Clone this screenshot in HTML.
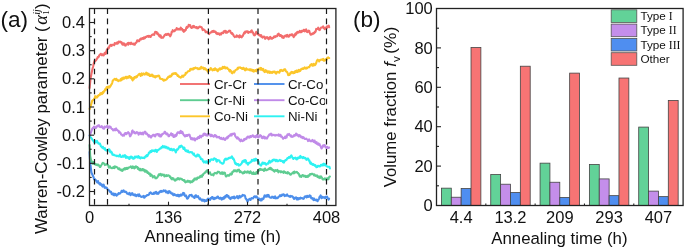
<!DOCTYPE html>
<html><head><meta charset="utf-8"><style>
html,body{margin:0;padding:0;background:#fff;}
body{width:685px;height:249px;overflow:hidden;font-family:"Liberation Sans",sans-serif;}
svg{display:block;will-change:transform;}
</style></head><body>
<svg width="685" height="249" viewBox="0 0 685 249">
<defs><clipPath id="clipCo"><rect x="280" y="90" width="44.9" height="20"/></clipPath></defs>
<rect x="0" y="0" width="685" height="249" fill="#fff"/>
<path d="M89.60,152.00 L89.90,158.00 L90.30,164.00 L91.40,172.50 L93.60,177.26 L94.10,179.15 L94.60,179.87 L95.10,179.27 L95.60,179.99 L96.10,180.45 L96.60,181.40 L97.10,182.34 L97.60,181.31 L98.10,181.16 L98.60,183.27 L99.10,183.28 L99.60,184.34 L100.10,183.18 L100.60,183.98 L101.10,185.02 L101.60,184.37 L102.10,185.99 L102.60,186.55 L103.10,184.88 L103.60,184.59 L104.10,186.10 L104.60,187.82 L105.10,187.40 L105.60,187.25 L106.10,188.03 L106.60,187.70 L107.10,188.40 L107.60,189.43 L108.10,190.21 L108.60,190.18 L109.10,190.49 L109.60,190.90 L110.10,191.91 L110.60,192.16 L111.10,191.95 L111.60,194.10 L112.10,194.12 L112.60,194.35 L113.10,193.44 L113.60,195.08 L114.10,195.32 L114.60,193.76 L115.10,193.83 L115.60,194.81 L116.10,195.14 L116.60,195.67 L117.10,194.38 L117.60,194.73 L118.10,194.26 L118.60,193.08 L119.10,193.18 L119.60,193.69 L120.10,193.59 L120.60,192.63 L121.10,192.39 L121.60,190.89 L122.10,190.77 L122.60,191.86 L123.10,191.16 L123.60,190.38 L124.10,191.16 L124.60,191.84 L125.10,192.07 L125.60,191.54 L126.10,191.88 L126.60,192.47 L127.10,193.59 L127.60,193.64 L128.10,193.68 L128.60,194.22 L129.10,193.13 L129.60,192.80 L130.10,194.17 L130.60,195.18 L131.10,194.55 L131.60,193.86 L132.10,193.09 L132.60,193.58 L133.10,195.00 L133.60,195.09 L134.10,194.73 L134.60,195.50 L135.10,194.43 L135.60,194.89 L136.10,196.18 L136.60,195.66 L137.10,195.20 L137.60,194.60 L138.10,195.05 L138.60,196.10 L139.10,194.21 L139.60,195.41 L140.10,196.05 L140.60,196.59 L141.10,196.58 L141.60,196.91 L142.10,196.51 L142.60,196.66 L143.10,196.57 L143.60,195.86 L144.10,197.69 L144.60,197.49 L145.10,196.25 L145.60,196.34 L146.10,196.10 L146.60,195.50 L147.10,195.07 L147.60,195.15 L148.10,195.15 L148.60,194.92 L149.10,194.29 L149.60,192.90 L150.10,192.73 L150.60,192.35 L151.10,192.97 L151.60,193.71 L152.10,193.87 L152.60,193.93 L153.10,194.01 L153.60,192.77 L154.10,193.76 L154.60,193.69 L155.10,192.38 L155.60,191.94 L156.10,191.89 L156.60,193.67 L157.10,193.13 L157.60,192.74 L158.10,193.89 L158.60,193.43 L159.10,192.20 L159.60,191.69 L160.10,192.03 L160.60,190.96 L161.10,190.89 L161.60,191.88 L162.10,191.56 L162.60,191.12 L163.10,191.31 L163.60,190.31 L164.10,190.81 L164.60,191.11 L165.10,190.78 L165.60,190.59 L166.10,192.44 L166.60,192.19 L167.10,191.51 L167.60,192.31 L168.10,193.09 L168.60,191.53 L169.10,191.10 L169.60,191.31 L170.10,192.74 L170.60,192.10 L171.10,193.33 L171.60,193.81 L172.10,193.82 L172.60,193.25 L173.10,194.98 L173.60,195.26 L174.10,194.84 L174.60,194.19 L175.10,195.12 L175.60,194.97 L176.10,195.49 L176.60,195.21 L177.10,195.99 L177.60,194.70 L178.10,194.77 L178.60,196.24 L179.10,196.37 L179.60,195.00 L180.10,195.66 L180.60,194.56 L181.10,195.61 L181.60,195.41 L182.10,194.52 L182.60,193.81 L183.10,192.96 L183.60,194.64 L184.10,193.14 L184.60,194.77 L185.10,196.10 L185.60,196.00 L186.10,195.46 L186.60,197.31 L187.10,198.52 L187.60,198.66 L188.10,198.06 L188.60,196.96 L189.10,196.12 L189.60,195.11 L190.10,195.44 L190.60,195.33 L191.10,195.00 L191.60,194.90 L192.10,196.37 L192.60,196.17 L193.10,196.79 L193.60,196.78 L194.10,197.79 L194.60,197.95 L195.10,195.78 L195.60,195.37 L196.10,195.36 L196.60,196.69 L197.10,197.05 L197.60,196.39 L198.10,196.15 L198.60,197.39 L199.10,198.39 L199.60,199.15 L200.10,198.28 L200.60,199.51 L201.10,199.66 L201.60,199.47 L202.10,200.79 L202.60,199.70 L203.10,200.73 L203.60,199.80 L204.10,199.95 L204.60,201.50 L205.10,200.19 L205.60,200.92 L206.10,200.63 L206.60,200.94 L207.10,199.71 L207.60,199.07 L208.10,198.56 L208.60,199.52 L209.10,199.11 L209.60,199.82 L210.10,199.85 L210.60,198.11 L211.10,198.52 L211.60,197.59 L212.10,197.13 L212.60,197.02 L213.10,198.73 L213.60,199.00 L214.10,199.10 L214.60,197.94 L215.10,198.15 L215.60,198.53 L216.10,197.67 L216.60,197.85 L217.10,197.08 L217.60,196.50 L218.10,196.73 L218.60,198.21 L219.10,197.88 L219.60,198.71 L220.10,198.11 L220.60,197.69 L221.10,198.91 L221.60,199.54 L222.10,198.03 L222.60,199.27 L223.10,198.15 L223.60,197.40 L224.10,198.59 L224.60,196.66 L225.10,196.19 L225.60,197.42 L226.10,196.14 L226.60,195.03 L227.10,195.15 L227.60,195.55 L228.10,197.03 L228.60,196.19 L229.10,198.00 L229.60,197.52 L230.10,198.83 L230.60,199.08 L231.10,197.78 L231.60,197.33 L232.10,197.74 L232.60,197.03 L233.10,198.12 L233.60,197.01 L234.10,196.50 L234.60,198.50 L235.10,197.43 L235.60,197.73 L236.10,197.39 L236.60,196.90 L237.10,196.09 L237.60,197.72 L238.10,198.26 L238.60,198.33 L239.10,196.30 L239.60,195.84 L240.10,196.48 L240.60,197.32 L241.10,196.40 L241.60,196.29 L242.10,196.03 L242.60,194.86 L243.10,195.43 L243.60,195.38 L244.10,195.48 L244.60,195.40 L245.10,196.12 L245.60,198.66 L246.10,198.77 L246.60,199.84 L247.10,200.73 L247.60,201.82 L248.10,200.47 L248.60,199.66 L249.10,199.25 L249.60,198.90 L250.10,199.80 L250.60,199.97 L251.10,198.51 L251.60,198.07 L252.10,198.33 L252.60,198.38 L253.10,198.34 L253.60,197.42 L254.10,196.52 L254.60,196.67 L255.10,196.26 L255.60,197.32 L256.10,196.58 L256.60,196.41 L257.10,197.72 L257.60,197.58 L258.10,198.90 L258.60,198.80 L259.10,199.82 L259.60,198.70 L260.10,199.37 L260.60,200.44 L261.10,199.30 L261.60,200.35 L262.10,198.51 L262.60,198.98 L263.10,199.23 L263.60,198.56 L264.10,196.83 L264.60,195.45 L265.10,195.61 L265.60,196.66 L266.10,195.56 L266.60,196.61 L267.10,195.20 L267.60,196.54 L268.10,194.92 L268.60,195.09 L269.10,196.67 L269.60,197.07 L270.10,197.58 L270.60,197.73 L271.10,197.70 L271.60,197.71 L272.10,196.69 L272.60,197.11 L273.10,196.76 L273.60,197.96 L274.10,198.13 L274.60,197.19 L275.10,196.44 L275.60,198.25 L276.10,198.40 L276.60,197.82 L277.10,197.59 L277.60,198.20 L278.10,197.41 L278.60,196.86 L279.10,196.42 L279.60,195.97 L280.10,195.16 L280.60,196.20 L281.10,195.85 L281.60,195.96 L282.10,194.68 L282.60,194.83 L283.10,194.43 L283.60,194.32 L284.10,194.62 L284.60,196.05 L285.10,195.51 L285.60,195.38 L286.10,195.86 L286.60,195.15 L287.10,194.45 L287.60,195.48 L288.10,195.80 L288.60,196.29 L289.10,196.01 L289.60,196.55 L290.10,196.88 L290.60,195.90 L291.10,196.31 L291.60,196.55 L292.10,196.18 L292.60,196.64 L293.10,197.26 L293.60,198.38 L294.10,198.91 L294.60,197.76 L295.10,198.44 L295.60,197.43 L296.10,197.35 L296.60,198.51 L297.10,199.55 L297.60,198.07 L298.10,198.90 L298.60,199.31 L299.10,198.00 L299.60,198.36 L300.10,198.71 L300.60,197.69 L301.10,198.12 L301.60,198.29 L302.10,197.98 L302.60,198.46 L303.10,198.66 L303.60,198.83 L304.10,197.95 L304.60,196.74 L305.10,196.48 L305.60,196.23 L306.10,196.88 L306.60,197.42 L307.10,195.87 L307.60,196.77 L308.10,197.03 L308.60,196.17 L309.10,196.21 L309.60,195.37 L310.10,196.81 L310.60,195.91 L311.10,198.06 L311.60,198.57 L312.10,198.56 L312.60,197.99 L313.10,199.54 L313.60,200.13 L314.10,198.51 L314.60,199.57 L315.10,200.13 L315.60,199.97 L316.10,200.10 L316.60,199.64 L317.10,200.69 L317.60,201.20 L318.10,199.56 L318.60,199.56 L319.10,198.29 L319.60,196.87 L320.10,196.39 L320.60,195.37 L321.10,197.24 L321.60,198.16 L322.10,196.71 L322.60,197.59 L323.10,197.63 L323.60,197.16 L324.10,197.30 L324.60,197.19 L325.10,198.28 L325.60,196.86 L326.10,196.82 L326.60,197.35 L327.10,196.53 L327.60,198.01 L328.10,198.63 L328.60,199.57 L329.10,198.64" fill="none" stroke="#4C8EEB" stroke-width="2.1" stroke-linejoin="round" stroke-linecap="round"/>
<path d="M89.60,145.00 L89.90,150.00 L90.20,156.00 L91.00,160.00 L92.41,163.28 L92.91,163.88 L93.41,162.21 L93.91,161.99 L94.41,163.86 L94.91,164.40 L95.41,164.63 L95.91,164.07 L96.41,164.72 L96.91,165.05 L97.41,165.23 L97.91,164.45 L98.41,164.98 L98.91,165.19 L99.41,166.15 L99.91,166.97 L100.41,166.87 L100.91,165.73 L101.41,164.99 L101.91,164.18 L102.41,163.23 L102.91,162.76 L103.41,163.55 L103.91,163.57 L104.41,163.77 L104.91,165.05 L105.41,164.65 L105.91,164.79 L106.41,164.36 L106.91,163.98 L107.41,164.79 L107.91,164.83 L108.41,165.93 L108.91,167.62 L109.41,167.54 L109.91,166.34 L110.41,167.64 L110.91,167.83 L111.41,167.76 L111.91,168.16 L112.41,167.98 L112.91,168.00 L113.41,166.90 L113.91,167.94 L114.41,168.14 L114.91,166.28 L115.41,167.02 L115.91,167.09 L116.41,166.86 L116.91,167.15 L117.41,167.36 L117.91,168.63 L118.41,168.24 L118.91,169.10 L119.41,168.42 L119.91,169.60 L120.41,170.17 L120.91,169.51 L121.41,169.73 L121.91,170.79 L122.41,170.83 L122.91,170.09 L123.41,169.04 L123.91,168.79 L124.41,169.40 L124.91,168.18 L125.41,169.35 L125.91,168.05 L126.41,169.01 L126.91,167.81 L127.41,168.83 L127.91,168.44 L128.41,167.74 L128.91,167.45 L129.41,167.55 L129.91,167.38 L130.41,166.76 L130.91,166.35 L131.41,166.96 L131.91,168.13 L132.41,167.79 L132.91,166.45 L133.41,167.78 L133.91,167.92 L134.41,168.35 L134.91,166.80 L135.41,167.58 L135.91,166.21 L136.41,167.15 L136.91,166.97 L137.41,167.09 L137.91,168.90 L138.41,167.95 L138.91,168.90 L139.41,170.23 L139.91,169.19 L140.41,168.85 L140.91,170.35 L141.41,169.81 L141.91,170.38 L142.41,169.03 L142.91,169.45 L143.41,169.33 L143.91,170.63 L144.41,169.84 L144.91,171.78 L145.41,170.40 L145.91,171.78 L146.41,170.74 L146.91,171.25 L147.41,173.02 L147.91,172.35 L148.41,172.51 L148.91,174.04 L149.41,174.10 L149.91,173.60 L150.41,175.87 L150.91,174.87 L151.41,174.56 L151.91,175.43 L152.41,176.56 L152.91,177.37 L153.41,176.27 L153.91,176.60 L154.41,176.14 L154.91,177.10 L155.41,178.25 L155.91,178.33 L156.41,178.27 L156.91,177.57 L157.41,177.25 L157.91,176.45 L158.41,175.32 L158.91,174.30 L159.41,175.08 L159.91,174.52 L160.41,173.86 L160.91,174.45 L161.41,175.61 L161.91,174.24 L162.41,174.92 L162.91,174.84 L163.41,175.21 L163.91,174.59 L164.41,176.39 L164.91,175.44 L165.41,176.07 L165.91,175.94 L166.41,175.08 L166.91,176.17 L167.41,175.64 L167.91,175.39 L168.41,175.36 L168.91,175.75 L169.41,175.82 L169.91,177.19 L170.41,176.71 L170.91,178.20 L171.41,178.79 L171.91,179.37 L172.41,178.06 L172.91,178.41 L173.41,178.33 L173.91,179.36 L174.41,180.00 L174.91,180.62 L175.41,180.50 L175.91,179.38 L176.41,179.38 L176.91,179.57 L177.41,178.39 L177.91,178.06 L178.41,178.78 L178.91,178.26 L179.41,179.48 L179.91,178.88 L180.41,178.48 L180.91,178.66 L181.41,178.93 L181.91,179.08 L182.41,179.93 L182.91,180.16 L183.41,179.98 L183.91,180.79 L184.41,180.15 L184.91,181.64 L185.41,182.31 L185.91,182.06 L186.41,181.40 L186.91,181.47 L187.41,181.74 L187.91,180.70 L188.41,181.32 L188.91,181.84 L189.41,181.30 L189.91,181.03 L190.41,182.56 L190.91,181.68 L191.41,181.53 L191.91,182.18 L192.41,181.43 L192.91,180.23 L193.41,181.24 L193.91,179.90 L194.41,178.59 L194.91,179.60 L195.41,178.43 L195.91,178.42 L196.41,179.51 L196.91,179.32 L197.41,177.62 L197.91,177.98 L198.41,177.87 L198.91,177.82 L199.41,176.91 L199.91,177.28 L200.41,175.97 L200.91,175.83 L201.41,175.76 L201.91,176.80 L202.41,174.87 L202.91,175.36 L203.41,173.79 L203.91,173.77 L204.41,172.94 L204.91,172.43 L205.41,172.57 L205.91,171.83 L206.41,170.89 L206.91,170.53 L207.41,170.23 L207.91,171.98 L208.41,172.41 L208.91,173.55 L209.41,173.56 L209.91,172.31 L210.41,173.67 L210.91,174.60 L211.41,174.89 L211.91,174.63 L212.41,174.41 L212.91,174.74 L213.41,175.42 L213.91,173.82 L214.41,173.49 L214.91,172.85 L215.41,173.31 L215.91,173.10 L216.41,173.45 L216.91,173.37 L217.41,172.16 L217.91,171.68 L218.41,172.18 L218.91,171.84 L219.41,172.17 L219.91,172.89 L220.41,173.70 L220.91,173.25 L221.41,173.70 L221.91,172.23 L222.41,172.45 L222.91,174.05 L223.41,172.63 L223.91,172.88 L224.41,172.52 L224.91,172.84 L225.41,175.15 L225.91,176.41 L226.41,176.35 L226.91,175.49 L227.41,175.43 L227.91,175.02 L228.41,175.74 L228.91,175.80 L229.41,175.08 L229.91,174.89 L230.41,173.71 L230.91,174.00 L231.41,174.57 L231.91,173.89 L232.41,171.76 L232.91,171.68 L233.41,171.70 L233.91,170.25 L234.41,171.03 L234.91,170.44 L235.41,170.85 L235.91,170.31 L236.41,171.54 L236.91,171.45 L237.41,170.97 L237.91,169.87 L238.41,170.25 L238.91,169.65 L239.41,170.98 L239.91,172.24 L240.41,171.20 L240.91,171.85 L241.41,172.18 L241.91,172.29 L242.41,172.94 L242.91,173.45 L243.41,172.92 L243.91,172.08 L244.41,172.81 L244.91,171.43 L245.41,172.05 L245.91,172.09 L246.41,172.38 L246.91,172.72 L247.41,171.42 L247.91,171.98 L248.41,171.69 L248.91,172.25 L249.41,173.18 L249.91,172.71 L250.41,171.26 L250.91,171.99 L251.41,172.90 L251.91,173.68 L252.41,173.49 L252.91,173.94 L253.41,172.35 L253.91,173.96 L254.41,173.85 L254.91,173.46 L255.41,173.97 L255.91,174.00 L256.41,172.14 L256.91,172.91 L257.41,172.59 L257.91,170.81 L258.41,171.15 L258.91,170.51 L259.41,169.04 L259.91,169.98 L260.41,168.90 L260.91,169.75 L261.41,169.68 L261.91,169.32 L262.41,170.01 L262.91,170.08 L263.41,169.50 L263.91,170.95 L264.41,169.25 L264.91,168.49 L265.41,169.30 L265.91,170.27 L266.41,170.06 L266.91,170.15 L267.41,169.55 L267.91,169.78 L268.41,169.04 L268.91,168.64 L269.41,169.03 L269.91,168.03 L270.41,167.83 L270.91,169.29 L271.41,168.37 L271.91,169.53 L272.41,170.21 L272.91,169.74 L273.41,170.42 L273.91,171.08 L274.41,171.65 L274.91,170.34 L275.41,170.16 L275.91,170.58 L276.41,170.92 L276.91,170.66 L277.41,169.95 L277.91,171.03 L278.41,172.32 L278.91,171.35 L279.41,171.48 L279.91,171.19 L280.41,171.28 L280.91,172.34 L281.41,171.41 L281.91,171.95 L282.41,171.78 L282.91,171.90 L283.41,172.84 L283.91,171.24 L284.41,172.53 L284.91,171.76 L285.41,172.43 L285.91,173.06 L286.41,173.02 L286.91,172.50 L287.41,173.47 L287.91,172.13 L288.41,173.07 L288.91,172.93 L289.41,173.36 L289.91,174.36 L290.41,174.68 L290.91,174.53 L291.41,173.89 L291.91,173.28 L292.41,173.31 L292.91,172.55 L293.41,172.17 L293.91,173.37 L294.41,171.53 L294.91,172.72 L295.41,172.26 L295.91,172.23 L296.41,172.26 L296.91,171.85 L297.41,172.91 L297.91,172.85 L298.41,173.74 L298.91,173.95 L299.41,175.68 L299.91,176.54 L300.41,175.74 L300.91,176.02 L301.41,176.86 L301.91,175.80 L302.41,175.05 L302.91,175.22 L303.41,175.24 L303.91,176.39 L304.41,176.01 L304.91,175.86 L305.41,176.83 L305.91,175.82 L306.41,176.85 L306.91,176.75 L307.41,176.18 L307.91,176.90 L308.41,175.45 L308.91,175.85 L309.41,175.68 L309.91,174.24 L310.41,173.98 L310.91,174.45 L311.41,174.00 L311.91,173.76 L312.41,173.84 L312.91,174.24 L313.41,174.39 L313.91,175.31 L314.41,174.35 L314.91,175.17 L315.41,175.88 L315.91,175.58 L316.41,175.63 L316.91,175.25 L317.41,177.06 L317.91,176.34 L318.41,176.52 L318.91,177.66 L319.41,176.49 L319.91,178.05 L320.41,176.76 L320.91,176.30 L321.41,177.05 L321.91,177.45 L322.41,179.00 L322.91,179.54 L323.41,179.57 L323.91,178.88 L324.41,178.96 L324.91,178.35 L325.41,179.59 L325.91,179.00 L326.41,178.64 L326.91,179.41 L327.41,178.34 L327.91,178.13 L328.41,179.25 L328.91,177.46 L329.41,176.81 L329.91,176.54" fill="none" stroke="#5ECC91" stroke-width="2.1" stroke-linejoin="round" stroke-linecap="round"/>
<path d="M89.60,135.50 L90.20,136.50 L91.30,138.00 L92.41,139.64 L92.91,140.66 L93.41,140.92 L93.91,141.88 L94.41,142.57 L94.91,141.71 L95.41,140.97 L95.91,142.47 L96.41,141.41 L96.91,140.86 L97.41,142.55 L97.91,142.34 L98.41,143.47 L98.91,143.33 L99.41,144.01 L99.91,143.51 L100.41,144.92 L100.91,146.32 L101.41,146.39 L101.91,147.34 L102.41,147.76 L102.91,146.76 L103.41,148.35 L103.91,148.73 L104.41,148.47 L104.91,148.07 L105.41,150.16 L105.91,149.90 L106.41,150.23 L106.91,150.62 L107.41,150.28 L107.91,150.57 L108.41,149.36 L108.91,149.85 L109.41,149.37 L109.91,151.23 L110.41,152.31 L110.91,151.48 L111.41,151.96 L111.91,152.68 L112.41,154.76 L112.91,154.39 L113.41,154.96 L113.91,154.61 L114.41,155.21 L114.91,155.35 L115.41,155.43 L115.91,155.72 L116.41,155.67 L116.91,156.25 L117.41,155.78 L117.91,156.06 L118.41,155.91 L118.91,156.38 L119.41,155.90 L119.91,154.71 L120.41,156.07 L120.91,156.83 L121.41,157.04 L121.91,156.45 L122.41,156.61 L122.91,155.53 L123.41,156.67 L123.91,156.46 L124.41,155.77 L124.91,155.09 L125.41,156.73 L125.91,157.79 L126.41,156.29 L126.91,157.72 L127.41,157.49 L127.91,157.06 L128.41,157.50 L128.91,158.59 L129.41,159.00 L129.91,157.10 L130.41,157.73 L130.91,156.49 L131.41,157.55 L131.91,156.86 L132.41,157.93 L132.91,158.57 L133.41,157.73 L133.91,158.67 L134.41,157.43 L134.91,156.58 L135.41,157.58 L135.91,156.59 L136.41,156.58 L136.91,157.00 L137.41,157.54 L137.91,156.60 L138.41,155.99 L138.91,157.65 L139.41,156.82 L139.91,158.16 L140.41,158.48 L140.91,157.44 L141.41,157.38 L141.91,157.55 L142.41,157.95 L142.91,158.02 L143.41,157.74 L143.91,157.61 L144.41,158.13 L144.91,157.11 L145.41,156.46 L145.91,156.75 L146.41,155.55 L146.91,155.03 L147.41,156.04 L147.91,154.94 L148.41,154.33 L148.91,152.56 L149.41,152.61 L149.91,152.65 L150.41,151.09 L150.91,151.82 L151.41,151.87 L151.91,150.36 L152.41,151.00 L152.91,150.61 L153.41,150.90 L153.91,150.39 L154.41,151.12 L154.91,151.48 L155.41,150.01 L155.91,149.73 L156.41,151.03 L156.91,151.83 L157.41,150.26 L157.91,150.09 L158.41,150.17 L158.91,149.40 L159.41,149.09 L159.91,148.69 L160.41,148.28 L160.91,148.33 L161.41,147.31 L161.91,146.84 L162.41,147.37 L162.91,145.93 L163.41,146.75 L163.91,147.37 L164.41,146.58 L164.91,146.25 L165.41,147.71 L165.91,147.02 L166.41,146.87 L166.91,147.56 L167.41,148.50 L167.91,147.52 L168.41,147.85 L168.91,148.10 L169.41,149.44 L169.91,149.05 L170.41,149.95 L170.91,148.71 L171.41,148.79 L171.91,149.61 L172.41,150.46 L172.91,149.79 L173.41,149.30 L173.91,149.13 L174.41,150.24 L174.91,150.00 L175.41,151.55 L175.91,152.30 L176.41,150.41 L176.91,149.47 L177.41,149.88 L177.91,149.09 L178.41,148.71 L178.91,147.44 L179.41,146.36 L179.91,146.20 L180.41,147.10 L180.91,145.95 L181.41,145.57 L181.91,146.15 L182.41,146.70 L182.91,147.19 L183.41,148.87 L183.91,147.96 L184.41,147.69 L184.91,149.89 L185.41,150.58 L185.91,151.20 L186.41,150.29 L186.91,151.38 L187.41,151.83 L187.91,150.52 L188.41,151.56 L188.91,152.32 L189.41,152.38 L189.91,152.30 L190.41,151.98 L190.91,152.24 L191.41,152.29 L191.91,152.13 L192.41,153.45 L192.91,153.32 L193.41,154.66 L193.91,153.48 L194.41,155.28 L194.91,155.51 L195.41,156.25 L195.91,156.42 L196.41,156.54 L196.91,155.89 L197.41,154.46 L197.91,155.77 L198.41,154.90 L198.91,155.00 L199.41,156.45 L199.91,157.01 L200.41,157.36 L200.91,159.11 L201.41,159.31 L201.91,159.17 L202.41,159.34 L202.91,161.21 L203.41,161.31 L203.91,162.46 L204.41,162.14 L204.91,161.44 L205.41,161.94 L205.91,162.66 L206.41,161.33 L206.91,162.28 L207.41,162.79 L207.91,162.51 L208.41,162.32 L208.91,160.25 L209.41,160.91 L209.91,161.51 L210.41,159.68 L210.91,159.50 L211.41,159.30 L211.91,159.70 L212.41,159.44 L212.91,159.33 L213.41,159.89 L213.91,158.53 L214.41,158.38 L214.91,158.64 L215.41,158.85 L215.91,158.92 L216.41,161.17 L216.91,161.60 L217.41,160.04 L217.91,160.59 L218.41,160.40 L218.91,160.41 L219.41,160.58 L219.91,161.88 L220.41,162.55 L220.91,162.65 L221.41,162.71 L221.91,163.47 L222.41,163.65 L222.91,163.61 L223.41,163.34 L223.91,161.86 L224.41,160.09 L224.91,159.16 L225.41,158.69 L225.91,159.18 L226.41,159.62 L226.91,158.71 L227.41,159.28 L227.91,158.93 L228.41,158.27 L228.91,157.82 L229.41,157.82 L229.91,158.16 L230.41,157.47 L230.91,157.76 L231.41,157.16 L231.91,156.35 L232.41,157.43 L232.91,158.84 L233.41,158.46 L233.91,159.79 L234.41,160.82 L234.91,162.80 L235.41,163.82 L235.91,163.08 L236.41,164.36 L236.91,164.78 L237.41,163.99 L237.91,164.51 L238.41,164.17 L238.91,165.55 L239.41,165.19 L239.91,165.31 L240.41,164.84 L240.91,164.12 L241.41,163.76 L241.91,162.98 L242.41,161.44 L242.91,162.00 L243.41,160.69 L243.91,160.47 L244.41,161.72 L244.91,160.27 L245.41,160.02 L245.91,160.71 L246.41,163.24 L246.91,162.91 L247.41,162.98 L247.91,164.80 L248.41,162.90 L248.91,163.47 L249.41,162.72 L249.91,162.35 L250.41,162.46 L250.91,161.54 L251.41,161.66 L251.91,159.82 L252.41,160.83 L252.91,160.43 L253.41,160.66 L253.91,159.23 L254.41,160.19 L254.91,160.80 L255.41,158.88 L255.91,158.81 L256.41,159.25 L256.91,160.41 L257.41,160.10 L257.91,160.42 L258.41,161.23 L258.91,162.88 L259.41,164.28 L259.91,164.46 L260.41,165.04 L260.91,165.64 L261.41,164.78 L261.91,164.16 L262.41,162.67 L262.91,162.66 L263.41,163.56 L263.91,162.96 L264.41,163.76 L264.91,162.86 L265.41,164.02 L265.91,164.73 L266.41,164.77 L266.91,163.99 L267.41,163.40 L267.91,163.30 L268.41,163.58 L268.91,161.66 L269.41,160.75 L269.91,161.91 L270.41,162.52 L270.91,161.67 L271.41,161.13 L271.91,161.48 L272.41,160.25 L272.91,159.95 L273.41,159.67 L273.91,160.42 L274.41,159.96 L274.91,159.58 L275.41,160.46 L275.91,161.27 L276.41,159.94 L276.91,160.63 L277.41,160.29 L277.91,161.32 L278.41,161.13 L278.91,160.46 L279.41,160.26 L279.91,159.87 L280.41,160.87 L280.91,161.00 L281.41,160.61 L281.91,160.98 L282.41,161.07 L282.91,162.19 L283.41,161.13 L283.91,162.60 L284.41,161.35 L284.91,160.87 L285.41,160.04 L285.91,160.25 L286.41,159.95 L286.91,158.95 L287.41,158.16 L287.91,158.16 L288.41,158.16 L288.91,157.00 L289.41,157.33 L289.91,157.84 L290.41,156.75 L290.91,155.76 L291.41,155.36 L291.91,156.66 L292.41,157.34 L292.91,158.52 L293.41,158.95 L293.91,158.00 L294.41,157.92 L294.91,157.98 L295.41,157.67 L295.91,158.67 L296.41,159.22 L296.91,159.39 L297.41,157.85 L297.91,158.69 L298.41,157.55 L298.91,157.35 L299.41,157.89 L299.91,156.45 L300.41,155.93 L300.91,157.57 L301.41,156.96 L301.91,157.05 L302.41,157.70 L302.91,158.24 L303.41,156.97 L303.91,157.46 L304.41,157.95 L304.91,158.30 L305.41,157.86 L305.91,158.69 L306.41,159.88 L306.91,159.03 L307.41,159.23 L307.91,158.48 L308.41,159.19 L308.91,160.75 L309.41,160.39 L309.91,162.52 L310.41,163.65 L310.91,162.52 L311.41,164.18 L311.91,163.55 L312.41,164.44 L312.91,164.84 L313.41,164.07 L313.91,164.88 L314.41,165.30 L314.91,165.99 L315.41,165.16 L315.91,166.25 L316.41,167.26 L316.91,167.11 L317.41,166.97 L317.91,165.75 L318.41,166.12 L318.91,165.79 L319.41,166.42 L319.91,166.40 L320.41,166.01 L320.91,164.90 L321.41,165.49 L321.91,165.49 L322.41,164.32 L322.91,165.46 L323.41,165.12 L323.91,163.66 L324.41,165.25 L324.91,164.17 L325.41,164.50 L325.91,165.70 L326.41,165.99 L326.91,166.18 L327.41,166.74 L327.91,166.77 L328.41,166.74 L328.91,166.71 L329.41,166.74 L329.91,168.54" fill="none" stroke="#2EF2F2" stroke-width="2.1" stroke-linejoin="round" stroke-linecap="round"/>
<path d="M89.60,135.50 L90.40,134.00 L92.09,129.07 L92.59,128.15 L93.09,128.23 L93.59,127.40 L94.09,126.63 L94.59,126.87 L95.09,127.87 L95.59,127.92 L96.09,127.78 L96.59,126.42 L97.09,126.67 L97.59,126.07 L98.09,125.58 L98.59,125.22 L99.09,125.28 L99.59,126.87 L100.09,127.05 L100.59,126.99 L101.09,127.13 L101.59,126.16 L102.09,126.44 L102.59,127.55 L103.09,128.42 L103.59,128.71 L104.09,128.65 L104.59,126.63 L105.09,127.04 L105.59,127.18 L106.09,126.98 L106.59,126.22 L107.09,126.73 L107.59,126.05 L108.09,127.74 L108.59,127.98 L109.09,127.24 L109.59,126.36 L110.09,127.41 L110.59,126.87 L111.09,127.94 L111.59,128.86 L112.09,128.93 L112.59,129.31 L113.09,130.43 L113.59,130.07 L114.09,129.26 L114.59,129.28 L115.09,130.38 L115.59,128.87 L116.09,128.40 L116.59,129.91 L117.09,129.78 L117.59,130.53 L118.09,130.82 L118.59,130.83 L119.09,132.65 L119.59,131.93 L120.09,132.71 L120.59,132.95 L121.09,134.50 L121.59,134.63 L122.09,134.95 L122.59,135.66 L123.09,134.75 L123.59,134.88 L124.09,135.58 L124.59,133.80 L125.09,133.03 L125.59,133.05 L126.09,134.15 L126.59,133.99 L127.09,132.93 L127.59,132.69 L128.09,132.13 L128.59,133.03 L129.09,132.96 L129.59,134.96 L130.09,136.37 L130.59,135.80 L131.09,134.47 L131.59,133.92 L132.09,130.92 L132.59,130.47 L133.09,132.25 L133.59,132.50 L134.09,131.88 L134.59,133.08 L135.09,132.85 L135.59,133.38 L136.09,132.49 L136.59,132.14 L137.09,132.76 L137.59,132.40 L138.09,133.00 L138.59,134.67 L139.09,133.87 L139.59,132.94 L140.09,132.65 L140.59,132.82 L141.09,134.25 L141.59,133.67 L142.09,133.30 L142.59,132.71 L143.09,134.48 L143.59,133.58 L144.09,132.70 L144.59,131.96 L145.09,131.61 L145.59,132.13 L146.09,133.86 L146.59,133.52 L147.09,133.52 L147.59,134.88 L148.09,134.76 L148.59,136.56 L149.09,135.20 L149.59,135.85 L150.09,136.72 L150.59,136.26 L151.09,137.56 L151.59,136.59 L152.09,135.67 L152.59,135.69 L153.09,134.74 L153.59,135.25 L154.09,134.91 L154.59,136.19 L155.09,136.40 L155.59,135.63 L156.09,134.27 L156.59,134.32 L157.09,134.24 L157.59,134.08 L158.09,134.04 L158.59,135.77 L159.09,134.79 L159.59,134.46 L160.09,136.56 L160.59,136.19 L161.09,136.41 L161.59,134.65 L162.09,134.79 L162.59,133.80 L163.09,133.77 L163.59,133.67 L164.09,133.02 L164.59,131.86 L165.09,131.74 L165.59,133.19 L166.09,133.91 L166.59,134.37 L167.09,133.33 L167.59,133.93 L168.09,134.93 L168.59,136.27 L169.09,136.19 L169.59,135.23 L170.09,134.95 L170.59,134.66 L171.09,133.33 L171.59,134.46 L172.09,135.41 L172.59,134.01 L173.09,136.01 L173.59,136.93 L174.09,136.89 L174.59,135.35 L175.09,136.46 L175.59,134.76 L176.09,135.92 L176.59,135.32 L177.09,133.27 L177.59,132.45 L178.09,132.84 L178.59,132.37 L179.09,132.32 L179.59,133.04 L180.09,131.74 L180.59,130.98 L181.09,132.98 L181.59,131.60 L182.09,133.29 L182.59,132.21 L183.09,133.92 L183.59,134.72 L184.09,135.53 L184.59,135.37 L185.09,136.43 L185.59,135.33 L186.09,135.79 L186.59,135.00 L187.09,135.92 L187.59,135.78 L188.09,134.90 L188.59,135.04 L189.09,134.57 L189.59,134.94 L190.09,136.82 L190.59,137.64 L191.09,139.24 L191.59,139.25 L192.09,138.19 L192.59,138.47 L193.09,139.56 L193.59,139.41 L194.09,138.26 L194.59,139.90 L195.09,140.45 L195.59,138.78 L196.09,139.03 L196.59,138.49 L197.09,139.04 L197.59,137.87 L198.09,137.11 L198.59,137.23 L199.09,138.19 L199.59,136.36 L200.09,135.72 L200.59,136.55 L201.09,137.27 L201.59,136.33 L202.09,135.57 L202.59,136.04 L203.09,135.71 L203.59,133.70 L204.09,134.69 L204.59,133.66 L205.09,133.72 L205.59,135.08 L206.09,134.64 L206.59,135.49 L207.09,134.38 L207.59,135.56 L208.09,134.26 L208.59,133.75 L209.09,134.34 L209.59,134.24 L210.09,134.91 L210.59,136.12 L211.09,136.21 L211.59,134.80 L212.09,135.25 L212.59,136.10 L213.09,136.25 L213.59,136.71 L214.09,136.26 L214.59,135.12 L215.09,135.12 L215.59,136.44 L216.09,135.65 L216.59,136.43 L217.09,137.41 L217.59,137.05 L218.09,137.23 L218.59,137.30 L219.09,136.82 L219.59,138.23 L220.09,137.77 L220.59,138.75 L221.09,137.77 L221.59,138.89 L222.09,139.16 L222.59,138.95 L223.09,138.62 L223.59,137.97 L224.09,139.41 L224.59,139.08 L225.09,139.84 L225.59,139.03 L226.09,138.21 L226.59,137.58 L227.09,138.47 L227.59,136.84 L228.09,137.57 L228.59,136.12 L229.09,136.05 L229.59,135.34 L230.09,135.57 L230.59,134.24 L231.09,134.37 L231.59,135.46 L232.09,133.87 L232.59,134.30 L233.09,133.85 L233.59,133.88 L234.09,133.42 L234.59,133.46 L235.09,135.79 L235.59,136.64 L236.09,137.17 L236.59,137.70 L237.09,138.54 L237.59,137.28 L238.09,138.14 L238.59,138.47 L239.09,139.03 L239.59,140.32 L240.09,140.57 L240.59,141.27 L241.09,139.57 L241.59,140.37 L242.09,140.76 L242.59,141.13 L243.09,140.60 L243.59,140.65 L244.09,139.19 L244.59,139.93 L245.09,138.71 L245.59,138.63 L246.09,139.11 L246.59,138.63 L247.09,137.39 L247.59,136.66 L248.09,136.48 L248.59,136.93 L249.09,137.74 L249.59,137.57 L250.09,136.26 L250.59,136.01 L251.09,136.95 L251.59,136.06 L252.09,136.15 L252.59,135.32 L253.09,135.52 L253.59,136.43 L254.09,136.96 L254.59,136.87 L255.09,136.21 L255.59,137.31 L256.09,136.82 L256.59,135.54 L257.09,134.91 L257.59,136.83 L258.09,137.43 L258.59,137.46 L259.09,136.74 L259.59,135.85 L260.09,135.14 L260.59,135.49 L261.09,135.66 L261.59,137.47 L262.09,138.07 L262.59,138.13 L263.09,136.78 L263.59,136.63 L264.09,136.78 L264.59,138.38 L265.09,137.11 L265.59,138.23 L266.09,138.37 L266.59,137.97 L267.09,138.50 L267.59,136.82 L268.09,136.68 L268.59,135.56 L269.09,134.85 L269.59,134.26 L270.09,134.56 L270.59,134.09 L271.09,133.67 L271.59,135.54 L272.09,134.35 L272.59,135.23 L273.09,134.93 L273.59,134.89 L274.09,134.79 L274.59,135.49 L275.09,135.58 L275.59,135.28 L276.09,134.88 L276.59,135.11 L277.09,135.34 L277.59,135.15 L278.09,135.09 L278.59,134.39 L279.09,135.88 L279.59,135.62 L280.09,134.70 L280.59,134.87 L281.09,136.85 L281.59,136.29 L282.09,136.70 L282.59,137.76 L283.09,138.76 L283.59,138.10 L284.09,138.02 L284.59,137.80 L285.09,136.65 L285.59,138.08 L286.09,136.36 L286.59,137.45 L287.09,135.36 L287.59,134.22 L288.09,134.95 L288.59,134.71 L289.09,133.96 L289.59,134.82 L290.09,135.26 L290.59,136.29 L291.09,135.43 L291.59,136.38 L292.09,136.92 L292.59,136.28 L293.09,136.44 L293.59,136.39 L294.09,134.98 L294.59,135.55 L295.09,135.59 L295.59,134.93 L296.09,133.54 L296.59,134.20 L297.09,135.32 L297.59,134.54 L298.09,135.33 L298.59,136.38 L299.09,136.25 L299.59,135.15 L300.09,136.30 L300.59,135.92 L301.09,137.33 L301.59,137.44 L302.09,136.80 L302.59,138.10 L303.09,137.89 L303.59,137.23 L304.09,138.22 L304.59,138.72 L305.09,138.93 L305.59,139.02 L306.09,138.62 L306.59,139.06 L307.09,139.32 L307.59,139.58 L308.09,141.06 L308.59,140.26 L309.09,139.46 L309.59,140.78 L310.09,140.80 L310.59,141.04 L311.09,141.34 L311.59,140.75 L312.09,140.47 L312.59,139.94 L313.09,141.33 L313.59,141.95 L314.09,141.56 L314.59,140.48 L315.09,142.53 L315.59,143.15 L316.09,142.96 L316.59,142.08 L317.09,144.11 L317.59,144.33 L318.09,144.57 L318.59,143.42 L319.09,144.89 L319.59,144.05 L320.09,145.70 L320.59,146.13 L321.09,147.46 L321.59,148.49 L322.09,147.73 L322.59,147.07 L323.09,145.30 L323.59,145.37 L324.09,146.03 L324.59,145.05 L325.09,145.77 L325.59,147.42 L326.09,147.52 L326.59,147.86 L327.09,146.75 L327.59,147.40 L328.09,147.90 L328.59,147.93 L329.09,147.41" fill="none" stroke="#C08AE8" stroke-width="2.1" stroke-linejoin="round" stroke-linecap="round"/>
<path d="M89.60,109.00 L90.50,106.70 L92.22,100.66 L92.72,100.35 L93.22,99.92 L93.72,99.66 L94.22,98.64 L94.72,98.29 L95.22,96.18 L95.72,96.47 L96.22,97.57 L96.72,97.13 L97.22,97.49 L97.72,95.70 L98.22,95.85 L98.72,95.06 L99.22,95.25 L99.72,95.11 L100.22,93.51 L100.72,93.24 L101.22,93.04 L101.72,94.18 L102.22,93.92 L102.72,92.18 L103.22,92.87 L103.72,91.29 L104.22,91.66 L104.72,90.38 L105.22,89.09 L105.72,90.02 L106.22,88.15 L106.72,86.97 L107.22,87.75 L107.72,87.70 L108.22,86.50 L108.72,87.73 L109.22,87.18 L109.72,87.38 L110.22,85.71 L110.72,85.92 L111.22,84.59 L111.72,84.00 L112.22,82.84 L112.72,80.81 L113.22,80.37 L113.72,79.66 L114.22,79.28 L114.72,78.86 L115.22,79.16 L115.72,79.82 L116.22,78.77 L116.72,80.16 L117.22,79.92 L117.72,79.90 L118.22,81.19 L118.72,80.92 L119.22,80.58 L119.72,80.44 L120.22,80.64 L120.72,78.96 L121.22,80.30 L121.72,78.25 L122.22,79.04 L122.72,79.32 L123.22,77.54 L123.72,78.74 L124.22,78.09 L124.72,78.35 L125.22,77.08 L125.72,76.76 L126.22,76.79 L126.72,78.32 L127.22,76.80 L127.72,77.41 L128.22,77.76 L128.72,77.67 L129.22,76.04 L129.72,75.96 L130.22,76.74 L130.72,77.90 L131.22,77.06 L131.72,78.63 L132.22,79.56 L132.72,80.33 L133.22,78.12 L133.72,79.24 L134.22,77.31 L134.72,77.01 L135.22,77.24 L135.72,77.72 L136.22,76.29 L136.72,77.12 L137.22,76.35 L137.72,75.45 L138.22,75.05 L138.72,74.47 L139.22,73.92 L139.72,73.82 L140.22,74.96 L140.72,75.92 L141.22,74.20 L141.72,73.33 L142.22,75.15 L142.72,74.56 L143.22,74.04 L143.72,73.45 L144.22,74.04 L144.72,74.70 L145.22,73.99 L145.72,73.64 L146.22,72.65 L146.72,74.50 L147.22,73.13 L147.72,73.88 L148.22,75.01 L148.72,73.82 L149.22,74.96 L149.72,75.91 L150.22,75.59 L150.72,75.98 L151.22,74.65 L151.72,75.13 L152.22,74.73 L152.72,76.34 L153.22,75.59 L153.72,75.71 L154.22,77.00 L154.72,77.05 L155.22,77.35 L155.72,76.23 L156.22,75.98 L156.72,76.55 L157.22,76.24 L157.72,75.80 L158.22,76.02 L158.72,75.58 L159.22,76.06 L159.72,77.70 L160.22,78.75 L160.72,78.77 L161.22,78.95 L161.72,79.10 L162.22,79.04 L162.72,79.18 L163.22,80.29 L163.72,80.73 L164.22,79.61 L164.72,80.16 L165.22,80.21 L165.72,79.92 L166.22,79.45 L166.72,79.28 L167.22,78.07 L167.72,78.24 L168.22,76.90 L168.72,76.49 L169.22,76.96 L169.72,76.75 L170.22,75.59 L170.72,76.57 L171.22,76.01 L171.72,75.51 L172.22,73.87 L172.72,74.29 L173.22,73.46 L173.72,73.89 L174.22,73.26 L174.72,73.61 L175.22,73.04 L175.72,73.80 L176.22,73.36 L176.72,74.25 L177.22,75.09 L177.72,75.90 L178.22,75.39 L178.72,76.41 L179.22,76.89 L179.72,76.73 L180.22,77.46 L180.72,77.75 L181.22,76.95 L181.72,76.85 L182.22,75.71 L182.72,76.57 L183.22,76.78 L183.72,75.51 L184.22,75.34 L184.72,75.07 L185.22,74.67 L185.72,72.90 L186.22,73.42 L186.72,72.77 L187.22,72.41 L187.72,71.39 L188.22,71.20 L188.72,71.28 L189.22,70.90 L189.72,70.84 L190.22,69.09 L190.72,68.72 L191.22,69.12 L191.72,69.59 L192.22,68.63 L192.72,69.41 L193.22,69.49 L193.72,68.12 L194.22,68.66 L194.72,68.23 L195.22,67.66 L195.72,67.64 L196.22,68.25 L196.72,68.24 L197.22,68.39 L197.72,68.19 L198.22,69.15 L198.72,68.88 L199.22,69.09 L199.72,68.86 L200.22,67.75 L200.72,68.70 L201.22,66.77 L201.72,67.41 L202.22,67.46 L202.72,67.93 L203.22,67.55 L203.72,69.23 L204.22,68.83 L204.72,68.09 L205.22,69.37 L205.72,68.73 L206.22,69.74 L206.72,69.73 L207.22,70.46 L207.72,71.71 L208.22,71.45 L208.72,70.22 L209.22,70.55 L209.72,70.05 L210.22,69.06 L210.72,68.03 L211.22,68.87 L211.72,69.09 L212.22,70.10 L212.72,70.46 L213.22,69.77 L213.72,69.01 L214.22,70.06 L214.72,68.44 L215.22,68.32 L215.72,69.46 L216.22,70.03 L216.72,69.23 L217.22,70.23 L217.72,71.24 L218.22,70.24 L218.72,69.69 L219.22,68.77 L219.72,68.37 L220.22,69.53 L220.72,68.24 L221.22,68.99 L221.72,69.00 L222.22,68.13 L222.72,66.96 L223.22,68.13 L223.72,67.23 L224.22,66.80 L224.72,66.75 L225.22,68.46 L225.72,68.04 L226.22,67.64 L226.72,68.16 L227.22,67.69 L227.72,68.92 L228.22,69.19 L228.72,69.20 L229.22,70.61 L229.72,71.42 L230.22,70.07 L230.72,71.13 L231.22,71.11 L231.72,72.89 L232.22,73.33 L232.72,72.49 L233.22,72.26 L233.72,71.31 L234.22,72.52 L234.72,70.86 L235.22,70.67 L235.72,69.89 L236.22,69.71 L236.72,69.41 L237.22,69.44 L237.72,67.80 L238.22,68.57 L238.72,67.54 L239.22,67.66 L239.72,67.44 L240.22,67.38 L240.72,68.00 L241.22,68.13 L241.72,68.03 L242.22,68.98 L242.72,68.99 L243.22,67.81 L243.72,68.04 L244.22,68.66 L244.72,70.00 L245.22,70.37 L245.72,69.68 L246.22,68.25 L246.72,69.59 L247.22,69.18 L247.72,69.41 L248.22,69.78 L248.72,69.73 L249.22,69.37 L249.72,70.25 L250.22,69.42 L250.72,69.40 L251.22,70.63 L251.72,69.66 L252.22,69.78 L252.72,71.21 L253.22,70.06 L253.72,71.57 L254.22,71.48 L254.72,70.74 L255.22,70.06 L255.72,70.88 L256.22,71.31 L256.72,69.56 L257.22,69.69 L257.72,69.77 L258.22,69.56 L258.72,68.99 L259.22,68.30 L259.72,68.97 L260.22,69.57 L260.72,67.93 L261.22,68.00 L261.72,69.59 L262.22,70.17 L262.72,70.23 L263.22,68.95 L263.72,70.35 L264.22,71.53 L264.72,72.07 L265.22,71.65 L265.72,70.14 L266.22,71.63 L266.72,70.76 L267.22,71.60 L267.72,72.67 L268.22,72.56 L268.72,71.31 L269.22,71.42 L269.72,73.00 L270.22,71.83 L270.72,72.65 L271.22,72.56 L271.72,72.06 L272.22,72.92 L272.72,71.85 L273.22,71.68 L273.72,72.25 L274.22,71.71 L274.72,71.52 L275.22,72.65 L275.72,73.26 L276.22,73.66 L276.72,71.98 L277.22,72.06 L277.72,71.73 L278.22,72.19 L278.72,71.98 L279.22,72.77 L279.72,71.49 L280.22,70.18 L280.72,71.07 L281.22,69.88 L281.72,70.43 L282.22,70.21 L282.72,71.01 L283.22,70.34 L283.72,70.21 L284.22,69.27 L284.72,69.56 L285.22,69.38 L285.72,71.12 L286.22,71.64 L286.72,71.45 L287.22,72.23 L287.72,73.36 L288.22,75.13 L288.72,74.52 L289.22,75.00 L289.72,74.69 L290.22,72.98 L290.72,73.49 L291.22,72.17 L291.72,71.82 L292.22,72.71 L292.72,72.08 L293.22,73.28 L293.72,72.65 L294.22,72.01 L294.72,72.82 L295.22,71.17 L295.72,72.15 L296.22,70.79 L296.72,70.48 L297.22,72.12 L297.72,71.87 L298.22,70.62 L298.72,69.80 L299.22,71.35 L299.72,70.93 L300.22,70.99 L300.72,69.27 L301.22,69.69 L301.72,69.03 L302.22,68.44 L302.72,68.38 L303.22,68.89 L303.72,68.32 L304.22,68.11 L304.72,67.36 L305.22,68.62 L305.72,68.43 L306.22,68.60 L306.72,67.65 L307.22,68.19 L307.72,67.45 L308.22,67.26 L308.72,67.02 L309.22,67.18 L309.72,66.28 L310.22,65.17 L310.72,64.54 L311.22,64.59 L311.72,64.08 L312.22,65.73 L312.72,65.14 L313.22,65.53 L313.72,63.80 L314.22,64.27 L314.72,65.27 L315.22,64.85 L315.72,64.10 L316.22,63.09 L316.72,61.30 L317.22,60.23 L317.72,59.72 L318.22,60.17 L318.72,60.31 L319.22,61.46 L319.72,60.11 L320.22,59.92 L320.72,59.89 L321.22,59.57 L321.72,59.66 L322.22,59.48 L322.72,59.91 L323.22,58.93 L323.72,60.60 L324.22,59.71 L324.72,60.55 L325.22,60.06 L325.72,59.72 L326.22,58.98 L326.72,59.68 L327.22,57.81 L327.72,58.35 L328.22,57.46 L328.72,57.91 L329.22,57.99" fill="none" stroke="#FCC62A" stroke-width="2.1" stroke-linejoin="round" stroke-linecap="round"/>
<path d="M89.60,88.00 L90.00,84.00 L90.50,79.00 L91.60,72.90 L92.70,67.97 L93.20,66.20 L93.70,63.68 L94.20,62.21 L94.70,60.64 L95.20,61.17 L95.70,60.36 L96.20,60.26 L96.70,58.82 L97.20,58.81 L97.70,57.18 L98.20,57.42 L98.70,56.83 L99.20,55.44 L99.70,54.82 L100.20,54.71 L100.70,53.76 L101.20,54.36 L101.70,55.17 L102.20,54.23 L102.70,55.23 L103.20,55.32 L103.70,55.40 L104.20,54.01 L104.70,52.80 L105.20,53.83 L105.70,53.87 L106.20,52.17 L106.70,50.15 L107.20,49.08 L107.70,49.07 L108.20,47.66 L108.70,48.36 L109.20,47.27 L109.70,45.59 L110.20,45.66 L110.70,44.74 L111.20,45.75 L111.70,45.87 L112.20,44.88 L112.70,44.76 L113.20,44.73 L113.70,44.84 L114.20,45.24 L114.70,43.13 L115.20,43.21 L115.70,43.73 L116.20,43.15 L116.70,43.58 L117.20,42.36 L117.70,43.55 L118.20,42.86 L118.70,41.48 L119.20,42.09 L119.70,41.72 L120.20,41.62 L120.70,42.48 L121.20,42.17 L121.70,42.47 L122.20,44.30 L122.70,44.64 L123.20,43.26 L123.70,44.72 L124.20,43.54 L124.70,44.03 L125.20,45.61 L125.70,45.56 L126.20,44.56 L126.70,44.23 L127.20,43.99 L127.70,43.13 L128.20,44.71 L128.70,42.83 L129.20,43.00 L129.70,43.73 L130.20,43.06 L130.70,44.11 L131.20,42.65 L131.70,43.81 L132.20,43.89 L132.70,43.70 L133.20,44.34 L133.70,43.70 L134.20,44.58 L134.70,44.77 L135.20,43.63 L135.70,42.80 L136.20,42.72 L136.70,41.65 L137.20,40.35 L137.70,41.42 L138.20,40.51 L138.70,40.63 L139.20,41.22 L139.70,39.87 L140.20,38.99 L140.70,38.64 L141.20,39.35 L141.70,38.77 L142.20,38.09 L142.70,38.08 L143.20,38.90 L143.70,37.48 L144.20,37.36 L144.70,38.31 L145.20,37.90 L145.70,36.90 L146.20,36.98 L146.70,36.92 L147.20,36.00 L147.70,36.14 L148.20,35.89 L148.70,36.84 L149.20,35.90 L149.70,36.26 L150.20,36.95 L150.70,36.91 L151.20,35.49 L151.70,35.45 L152.20,34.65 L152.70,34.45 L153.20,34.40 L153.70,34.76 L154.20,34.92 L154.70,33.20 L155.20,31.75 L155.70,32.38 L156.20,31.99 L156.70,32.02 L157.20,33.95 L157.70,33.22 L158.20,34.60 L158.70,34.42 L159.20,36.04 L159.70,36.65 L160.20,35.33 L160.70,35.54 L161.20,37.66 L161.70,37.84 L162.20,37.30 L162.70,37.65 L163.20,37.60 L163.70,36.61 L164.20,36.04 L164.70,34.79 L165.20,34.81 L165.70,34.22 L166.20,35.01 L166.70,35.07 L167.20,33.88 L167.70,34.51 L168.20,33.95 L168.70,33.81 L169.20,35.11 L169.70,35.18 L170.20,36.30 L170.70,35.38 L171.20,34.28 L171.70,31.82 L172.20,31.88 L172.70,30.18 L173.20,30.71 L173.70,31.33 L174.20,31.30 L174.70,31.04 L175.20,29.75 L175.70,29.75 L176.20,29.80 L176.70,28.13 L177.20,29.31 L177.70,29.46 L178.20,28.74 L178.70,29.47 L179.20,29.11 L179.70,28.78 L180.20,29.58 L180.70,27.59 L181.20,28.16 L181.70,29.51 L182.20,28.91 L182.70,30.76 L183.20,29.88 L183.70,31.84 L184.20,30.40 L184.70,31.20 L185.20,29.85 L185.70,30.23 L186.20,27.92 L186.70,26.88 L187.20,27.81 L187.70,27.25 L188.20,26.40 L188.70,24.88 L189.20,24.97 L189.70,25.55 L190.20,25.09 L190.70,27.21 L191.20,27.42 L191.70,27.98 L192.20,27.60 L192.70,26.71 L193.20,25.87 L193.70,27.17 L194.20,26.18 L194.70,27.01 L195.20,27.32 L195.70,27.70 L196.20,27.05 L196.70,27.07 L197.20,28.31 L197.70,27.56 L198.20,28.14 L198.70,27.25 L199.20,27.07 L199.70,26.51 L200.20,27.09 L200.70,26.90 L201.20,26.97 L201.70,27.34 L202.20,28.59 L202.70,30.11 L203.20,29.79 L203.70,29.41 L204.20,29.87 L204.70,30.09 L205.20,31.16 L205.70,32.23 L206.20,32.30 L206.70,31.71 L207.20,32.14 L207.70,32.67 L208.20,33.25 L208.70,33.10 L209.20,34.09 L209.70,33.10 L210.20,32.80 L210.70,32.57 L211.20,32.18 L211.70,32.26 L212.20,31.11 L212.70,31.27 L213.20,31.86 L213.70,30.75 L214.20,31.82 L214.70,31.94 L215.20,31.59 L215.70,31.73 L216.20,33.55 L216.70,32.80 L217.20,34.13 L217.70,33.31 L218.20,33.86 L218.70,33.35 L219.20,34.12 L219.70,34.77 L220.20,33.53 L220.70,33.80 L221.20,34.51 L221.70,32.99 L222.20,32.69 L222.70,32.93 L223.20,33.08 L223.70,31.27 L224.20,31.77 L224.70,30.89 L225.20,30.71 L225.70,32.76 L226.20,31.34 L226.70,32.78 L227.20,32.52 L227.70,32.05 L228.20,31.80 L228.70,31.32 L229.20,30.55 L229.70,30.97 L230.20,30.77 L230.70,32.45 L231.20,33.00 L231.70,33.71 L232.20,33.09 L232.70,34.25 L233.20,34.30 L233.70,35.98 L234.20,36.29 L234.70,37.03 L235.20,36.66 L235.70,36.56 L236.20,36.82 L236.70,35.40 L237.20,36.50 L237.70,35.81 L238.20,36.66 L238.70,36.21 L239.20,37.43 L239.70,35.28 L240.20,36.29 L240.70,37.01 L241.20,36.37 L241.70,37.35 L242.20,36.12 L242.70,36.21 L243.20,34.80 L243.70,33.77 L244.20,32.57 L244.70,33.37 L245.20,31.57 L245.70,32.33 L246.20,31.78 L246.70,31.25 L247.20,31.71 L247.70,31.26 L248.20,32.92 L248.70,32.01 L249.20,32.18 L249.70,32.11 L250.20,32.16 L250.70,31.70 L251.20,30.96 L251.70,30.32 L252.20,32.45 L252.70,32.07 L253.20,33.07 L253.70,34.73 L254.20,35.21 L254.70,35.38 L255.20,34.62 L255.70,33.25 L256.20,31.81 L256.70,32.86 L257.20,33.11 L257.70,34.29 L258.20,34.09 L258.70,34.62 L259.20,35.25 L259.70,34.87 L260.20,35.82 L260.70,36.44 L261.20,35.13 L261.70,36.70 L262.20,37.28 L262.70,37.66 L263.20,36.82 L263.70,36.60 L264.20,36.50 L264.70,37.25 L265.20,38.82 L265.70,38.36 L266.20,37.26 L266.70,37.59 L267.20,37.14 L267.70,38.21 L268.20,38.83 L268.70,39.35 L269.20,37.54 L269.70,37.58 L270.20,36.92 L270.70,38.44 L271.20,38.65 L271.70,37.90 L272.20,38.60 L272.70,37.72 L273.20,37.86 L273.70,37.00 L274.20,36.25 L274.70,37.26 L275.20,37.01 L275.70,36.14 L276.20,36.43 L276.70,35.97 L277.20,36.10 L277.70,34.39 L278.20,33.96 L278.70,33.71 L279.20,34.92 L279.70,35.82 L280.20,35.00 L280.70,35.77 L281.20,35.31 L281.70,36.70 L282.20,37.44 L282.70,36.14 L283.20,37.89 L283.70,37.77 L284.20,36.59 L284.70,36.38 L285.20,35.48 L285.70,36.16 L286.20,36.52 L286.70,35.15 L287.20,34.83 L287.70,35.83 L288.20,36.73 L288.70,36.79 L289.20,36.19 L289.70,34.79 L290.20,35.25 L290.70,34.75 L291.20,35.12 L291.70,34.41 L292.20,34.36 L292.70,35.76 L293.20,35.93 L293.70,37.17 L294.20,35.99 L294.70,34.31 L295.20,35.38 L295.70,33.28 L296.20,34.42 L296.70,33.32 L297.20,31.96 L297.70,31.88 L298.20,32.71 L298.70,32.02 L299.20,32.19 L299.70,30.96 L300.20,32.23 L300.70,31.47 L301.20,32.24 L301.70,30.82 L302.20,31.52 L302.70,31.18 L303.20,30.82 L303.70,29.73 L304.20,30.49 L304.70,31.32 L305.20,29.78 L305.70,30.16 L306.20,29.42 L306.70,31.55 L307.20,32.23 L307.70,31.87 L308.20,31.40 L308.70,30.61 L309.20,30.89 L309.70,32.66 L310.20,33.75 L310.70,34.64 L311.20,34.79 L311.70,34.03 L312.20,33.56 L312.70,34.17 L313.20,33.22 L313.70,32.96 L314.20,33.23 L314.70,31.88 L315.20,32.23 L315.70,31.25 L316.20,28.94 L316.70,29.38 L317.20,28.85 L317.70,28.63 L318.20,27.62 L318.70,29.62 L319.20,29.64 L319.70,30.04 L320.20,29.09 L320.70,28.12 L321.20,27.50 L321.70,27.48 L322.20,27.42 L322.70,26.77 L323.20,26.40 L323.70,27.98 L324.20,28.48 L324.70,29.13 L325.20,27.88 L325.70,28.43 L326.20,28.06 L326.70,26.57 L327.20,27.73 L327.70,26.67 L328.20,25.94 L328.70,25.65 L329.20,27.20" fill="none" stroke="#F26D6D" stroke-width="2.1" stroke-linejoin="round" stroke-linecap="round"/>
<line x1="180" y1="84.0" x2="210" y2="84.0" stroke="#F26D6D" stroke-width="1.9"/>
<text x="214.0" y="88.8" font-size="13.3" font-family="Liberation Sans, sans-serif" fill="#111">Cr-Cr</text>
<line x1="254" y1="84.0" x2="284.5" y2="84.0" stroke="#4C8EEB" stroke-width="1.9"/>
<text x="287.9" y="88.8" font-size="13.3" font-family="Liberation Sans, sans-serif" fill="#111">Cr-Co</text>
<line x1="180" y1="100.2" x2="210" y2="100.2" stroke="#5ECC91" stroke-width="1.9"/>
<text x="214.0" y="105.0" font-size="13.3" font-family="Liberation Sans, sans-serif" fill="#111">Cr-Ni</text>
<line x1="254" y1="100.2" x2="284.5" y2="100.2" stroke="#C08AE8" stroke-width="1.9"/>
<text x="287.9" y="105.0" font-size="13.3" font-family="Liberation Sans, sans-serif" fill="#111" clip-path="url(#clipCo)">Co-Co</text>
<line x1="180" y1="116.3" x2="210" y2="116.3" stroke="#FCC62A" stroke-width="1.9"/>
<text x="214.0" y="121.1" font-size="13.3" font-family="Liberation Sans, sans-serif" fill="#111">Co-Ni</text>
<line x1="254" y1="116.3" x2="284.5" y2="116.3" stroke="#2EF2F2" stroke-width="1.9"/>
<text x="287.9" y="121.1" font-size="13.3" font-family="Liberation Sans, sans-serif" fill="#111">Ni-Ni</text>
<line x1="94.5" y1="8.5" x2="94.5" y2="205.5" stroke="#1a1a1a" stroke-width="1.2" stroke-dasharray="5.6 4.43"/>
<line x1="107.5" y1="8.5" x2="107.5" y2="205.5" stroke="#1a1a1a" stroke-width="1.2" stroke-dasharray="5.6 4.43"/>
<line x1="208.4" y1="8.5" x2="208.4" y2="205.5" stroke="#1a1a1a" stroke-width="1.2" stroke-dasharray="5.6 4.43"/>
<line x1="258.0" y1="8.5" x2="258.0" y2="205.5" stroke="#1a1a1a" stroke-width="1.2" stroke-dasharray="5.6 4.43"/>
<line x1="326.5" y1="8.5" x2="326.5" y2="205.5" stroke="#1a1a1a" stroke-width="1.2" stroke-dasharray="5.6 4.43"/>
<rect x="89.5" y="8.5" width="246.39999999999998" height="197.0" fill="none" stroke="#222" stroke-width="1.3"/>
<line x1="89.5" y1="191.50" x2="94.1" y2="191.50" stroke="#222" stroke-width="1.1"/>
<text x="85" y="197.10" font-size="16.5" font-family="Liberation Sans, sans-serif" text-anchor="end" fill="#111">-0.2</text>
<line x1="89.5" y1="177.42" x2="91.7" y2="177.42" stroke="#222" stroke-width="1.1"/>
<line x1="89.5" y1="163.34" x2="94.1" y2="163.34" stroke="#222" stroke-width="1.1"/>
<text x="85" y="168.94" font-size="16.5" font-family="Liberation Sans, sans-serif" text-anchor="end" fill="#111">-0.1</text>
<line x1="89.5" y1="149.25" x2="91.7" y2="149.25" stroke="#222" stroke-width="1.1"/>
<line x1="89.5" y1="135.17" x2="94.1" y2="135.17" stroke="#222" stroke-width="1.1"/>
<text x="85" y="140.77" font-size="16.5" font-family="Liberation Sans, sans-serif" text-anchor="end" fill="#111">0.0</text>
<line x1="89.5" y1="121.09" x2="91.7" y2="121.09" stroke="#222" stroke-width="1.1"/>
<line x1="89.5" y1="107.00" x2="94.1" y2="107.00" stroke="#222" stroke-width="1.1"/>
<text x="85" y="112.60" font-size="16.5" font-family="Liberation Sans, sans-serif" text-anchor="end" fill="#111">0.1</text>
<line x1="89.5" y1="92.92" x2="91.7" y2="92.92" stroke="#222" stroke-width="1.1"/>
<line x1="89.5" y1="78.84" x2="94.1" y2="78.84" stroke="#222" stroke-width="1.1"/>
<text x="85" y="84.44" font-size="16.5" font-family="Liberation Sans, sans-serif" text-anchor="end" fill="#111">0.2</text>
<line x1="89.5" y1="64.75" x2="91.7" y2="64.75" stroke="#222" stroke-width="1.1"/>
<line x1="89.5" y1="50.67" x2="94.1" y2="50.67" stroke="#222" stroke-width="1.1"/>
<text x="85" y="56.27" font-size="16.5" font-family="Liberation Sans, sans-serif" text-anchor="end" fill="#111">0.3</text>
<line x1="89.5" y1="36.59" x2="91.7" y2="36.59" stroke="#222" stroke-width="1.1"/>
<line x1="89.5" y1="22.50" x2="94.1" y2="22.50" stroke="#222" stroke-width="1.1"/>
<text x="85" y="28.10" font-size="16.5" font-family="Liberation Sans, sans-serif" text-anchor="end" fill="#111">0.4</text>
<text x="89.50" y="223.3" font-size="16.5" font-family="Liberation Sans, sans-serif" text-anchor="middle" fill="#111">0</text>
<line x1="129.00" y1="205.5" x2="129.00" y2="203.7" stroke="#222" stroke-width="1.1"/>
<line x1="168.50" y1="205.5" x2="168.50" y2="201.7" stroke="#222" stroke-width="1.1"/>
<text x="168.50" y="223.3" font-size="16.5" font-family="Liberation Sans, sans-serif" text-anchor="middle" fill="#111">136</text>
<line x1="208.00" y1="205.5" x2="208.00" y2="203.7" stroke="#222" stroke-width="1.1"/>
<line x1="247.50" y1="205.5" x2="247.50" y2="201.7" stroke="#222" stroke-width="1.1"/>
<text x="247.50" y="223.3" font-size="16.5" font-family="Liberation Sans, sans-serif" text-anchor="middle" fill="#111">272</text>
<line x1="287.00" y1="205.5" x2="287.00" y2="203.7" stroke="#222" stroke-width="1.1"/>
<line x1="326.50" y1="205.5" x2="326.50" y2="201.7" stroke="#222" stroke-width="1.1"/>
<text x="326.50" y="223.3" font-size="16.5" font-family="Liberation Sans, sans-serif" text-anchor="middle" fill="#111">408</text>
<text x="212.7" y="241.8" font-size="16.8" font-family="Liberation Sans, sans-serif" text-anchor="middle" fill="#111">Annealing time (h)</text>
<g transform="translate(47.2,234) rotate(-90)" fill="#111"><text x="0" y="0" font-size="16.9" font-family="Liberation Sans, sans-serif">Warren-Cowley parameter (</text><text x="209.3" y="0" font-size="18.5" font-family="Liberation Serif, serif" font-style="italic">α</text><text x="219.2" y="-7.6" font-size="10" font-family="Liberation Serif, serif" font-style="italic">ij</text><text x="219.2" y="2.1" font-size="9" font-family="Liberation Serif, serif">1</text><text x="225" y="0" font-size="16.9" font-family="Liberation Sans, sans-serif">)</text></g>
<text x="0.4" y="27" font-size="22.6" font-family="Liberation Sans, sans-serif" fill="#111">(a)</text>
<rect x="441.43" y="188.16" width="9.86" height="17.34" fill="#62D298" stroke="#444" stroke-width="0.8"/>
<rect x="451.30" y="197.23" width="9.86" height="8.27" fill="#C48EEA" stroke="#444" stroke-width="0.8"/>
<rect x="461.16" y="188.56" width="9.86" height="16.94" fill="#4F8EF0" stroke="#444" stroke-width="0.8"/>
<rect x="471.02" y="47.51" width="9.86" height="157.99" fill="#F77474" stroke="#444" stroke-width="0.8"/>
<text x="461.16" y="223.3" font-size="16.5" font-family="Liberation Sans, sans-serif" text-anchor="middle" fill="#111">4.4</text>
<rect x="490.75" y="174.57" width="9.86" height="30.93" fill="#62D298" stroke="#444" stroke-width="0.8"/>
<rect x="500.62" y="184.22" width="9.86" height="21.28" fill="#C48EEA" stroke="#444" stroke-width="0.8"/>
<rect x="510.48" y="192.50" width="9.86" height="13.00" fill="#4F8EF0" stroke="#444" stroke-width="0.8"/>
<rect x="520.34" y="66.22" width="9.86" height="139.28" fill="#F77474" stroke="#444" stroke-width="0.8"/>
<text x="510.48" y="223.3" font-size="16.5" font-family="Liberation Sans, sans-serif" text-anchor="middle" fill="#111">13.2</text>
<line x1="485.82" y1="205.5" x2="485.82" y2="203.5" stroke="#222" stroke-width="1.1"/>
<rect x="540.07" y="163.15" width="9.86" height="42.35" fill="#62D298" stroke="#444" stroke-width="0.8"/>
<rect x="549.94" y="182.25" width="9.86" height="23.25" fill="#C48EEA" stroke="#444" stroke-width="0.8"/>
<rect x="559.80" y="197.42" width="9.86" height="8.08" fill="#4F8EF0" stroke="#444" stroke-width="0.8"/>
<rect x="569.66" y="73.12" width="9.86" height="132.38" fill="#F77474" stroke="#444" stroke-width="0.8"/>
<text x="559.80" y="223.3" font-size="16.5" font-family="Liberation Sans, sans-serif" text-anchor="middle" fill="#111">209</text>
<line x1="535.14" y1="205.5" x2="535.14" y2="203.5" stroke="#222" stroke-width="1.1"/>
<rect x="589.39" y="164.52" width="9.86" height="40.98" fill="#62D298" stroke="#444" stroke-width="0.8"/>
<rect x="599.26" y="178.91" width="9.86" height="26.59" fill="#C48EEA" stroke="#444" stroke-width="0.8"/>
<rect x="609.12" y="195.65" width="9.86" height="9.85" fill="#4F8EF0" stroke="#444" stroke-width="0.8"/>
<rect x="618.98" y="78.04" width="9.86" height="127.46" fill="#F77474" stroke="#444" stroke-width="0.8"/>
<text x="609.12" y="223.3" font-size="16.5" font-family="Liberation Sans, sans-serif" text-anchor="middle" fill="#111">293</text>
<line x1="584.46" y1="205.5" x2="584.46" y2="203.5" stroke="#222" stroke-width="1.1"/>
<rect x="638.71" y="127.09" width="9.86" height="78.41" fill="#62D298" stroke="#444" stroke-width="0.8"/>
<rect x="648.58" y="191.12" width="9.86" height="14.38" fill="#C48EEA" stroke="#444" stroke-width="0.8"/>
<rect x="658.44" y="196.63" width="9.86" height="8.87" fill="#4F8EF0" stroke="#444" stroke-width="0.8"/>
<rect x="668.30" y="100.50" width="9.86" height="105.00" fill="#F77474" stroke="#444" stroke-width="0.8"/>
<text x="658.44" y="223.3" font-size="16.5" font-family="Liberation Sans, sans-serif" text-anchor="middle" fill="#111">407</text>
<line x1="633.78" y1="205.5" x2="633.78" y2="203.5" stroke="#222" stroke-width="1.1"/>
<rect x="436.5" y="8.5" width="246.60000000000002" height="197.0" fill="none" stroke="#222" stroke-width="1.3"/>
<text x="432.8" y="211.10" font-size="16.5" font-family="Liberation Sans, sans-serif" text-anchor="end" fill="#111">0</text>
<line x1="436.5" y1="185.80" x2="439.0" y2="185.80" stroke="#222" stroke-width="1.1"/>
<line x1="436.5" y1="166.10" x2="441.0" y2="166.10" stroke="#222" stroke-width="1.1"/>
<text x="432.8" y="171.70" font-size="16.5" font-family="Liberation Sans, sans-serif" text-anchor="end" fill="#111">20</text>
<line x1="436.5" y1="146.40" x2="439.0" y2="146.40" stroke="#222" stroke-width="1.1"/>
<line x1="436.5" y1="126.70" x2="441.0" y2="126.70" stroke="#222" stroke-width="1.1"/>
<text x="432.8" y="132.30" font-size="16.5" font-family="Liberation Sans, sans-serif" text-anchor="end" fill="#111">40</text>
<line x1="436.5" y1="107.00" x2="439.0" y2="107.00" stroke="#222" stroke-width="1.1"/>
<line x1="436.5" y1="87.30" x2="441.0" y2="87.30" stroke="#222" stroke-width="1.1"/>
<text x="432.8" y="92.90" font-size="16.5" font-family="Liberation Sans, sans-serif" text-anchor="end" fill="#111">60</text>
<line x1="436.5" y1="67.60" x2="439.0" y2="67.60" stroke="#222" stroke-width="1.1"/>
<line x1="436.5" y1="47.90" x2="441.0" y2="47.90" stroke="#222" stroke-width="1.1"/>
<text x="432.8" y="53.50" font-size="16.5" font-family="Liberation Sans, sans-serif" text-anchor="end" fill="#111">80</text>
<line x1="436.5" y1="28.20" x2="439.0" y2="28.20" stroke="#222" stroke-width="1.1"/>
<text x="432.8" y="14.10" font-size="16.5" font-family="Liberation Sans, sans-serif" text-anchor="end" fill="#111">100</text>
<text x="559.4" y="243.6" font-size="16.8" font-family="Liberation Sans, sans-serif" text-anchor="middle" fill="#111">Annealing time (h)</text>
<g transform="translate(395.9,187.3) rotate(-90)" fill="#111"><text x="0" y="0" font-size="16.8" font-family="Liberation Sans, sans-serif">Volume fraction </text><text x="120.6" y="0" font-size="16.8" font-family="Liberation Sans, sans-serif" font-style="italic">f</text><text x="125.4" y="3.8" font-size="11.5" font-family="Liberation Sans, sans-serif">v</text><text x="133.6" y="0" font-size="17.3" font-family="Liberation Sans, sans-serif">(%)</text></g>
<text x="352.9" y="27" font-size="22.6" font-family="Liberation Sans, sans-serif" fill="#111">(b)</text>
<rect x="611.2" y="9.80" width="25.6" height="12.6" fill="#62D298" stroke="#555" stroke-width="0.8"/>
<text x="640.5" y="20.10" font-size="11.7" font-family="Liberation Sans, sans-serif" fill="#111">Type<tspan font-family="Liberation Serif, serif"> I</tspan></text>
<rect x="611.2" y="24.10" width="25.6" height="12.6" fill="#C48EEA" stroke="#555" stroke-width="0.8"/>
<text x="640.5" y="34.40" font-size="11.7" font-family="Liberation Sans, sans-serif" fill="#111">Type<tspan font-family="Liberation Serif, serif"> II</tspan></text>
<rect x="611.2" y="38.40" width="25.6" height="12.6" fill="#4F8EF0" stroke="#555" stroke-width="0.8"/>
<text x="640.5" y="48.70" font-size="11.7" font-family="Liberation Sans, sans-serif" fill="#111">Type<tspan font-family="Liberation Serif, serif"> III</tspan></text>
<rect x="611.2" y="52.70" width="25.6" height="12.6" fill="#F77474" stroke="#555" stroke-width="0.8"/>
<text x="640.5" y="63.00" font-size="11.7" font-family="Liberation Sans, sans-serif" fill="#111">Other</text>
</svg>
</body></html>
